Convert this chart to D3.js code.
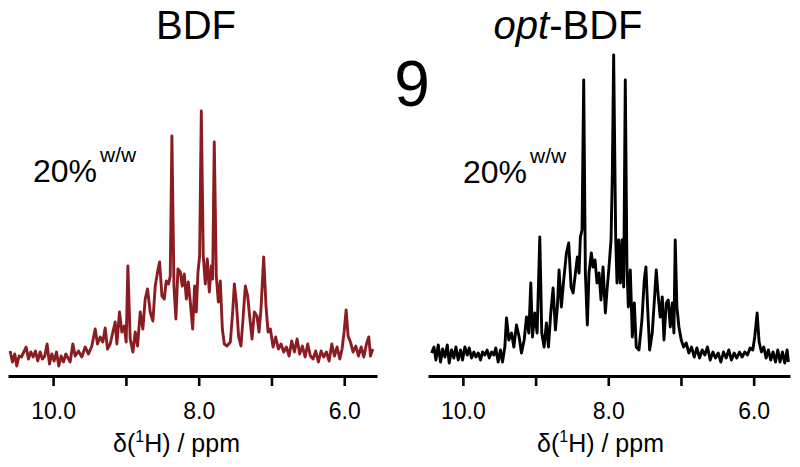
<!DOCTYPE html>
<html>
<head>
<meta charset="utf-8">
<script src="https://cdn.jsdelivr.net/npm/d3@7"></script>
<style>
  html, body { margin: 0; padding: 0; background: #fff; }
  svg { display: block; }
  text { font-family: "Liberation Sans", Arial, Helvetica, sans-serif; fill: #000; }
</style>
</head>
<body>
<svg id="chart" width="800" height="467"></svg>
<script>
// ---- data (chemical shift in ppm, intensity in arbitrary units) ----
const bdfShift = [10.591,10.559,10.527,10.500,10.468,10.436,10.403,10.371,10.339,10.307,10.275,10.243,10.211,10.179,10.147,10.115,10.083,10.050,10.018,9.986,9.954,9.922,9.890,9.858,9.826,9.766,9.729,9.697,9.652,9.606,9.560,9.514,9.468,9.422,9.390,9.353,9.317,9.285,9.253,9.216,9.179,9.147,9.124,9.088,9.056,9.023,8.996,8.973,8.941,8.904,8.872,8.840,8.803,8.767,8.735,8.703,8.666,8.629,8.597,8.565,8.537,8.505,8.473,8.446,8.414,8.391,8.368,8.340,8.313,8.285,8.253,8.226,8.198,8.170,8.143,8.115,8.083,8.056,8.033,8.010,7.987,7.964,7.937,7.909,7.882,7.854,7.827,7.808,7.786,7.758,7.730,7.703,7.675,7.648,7.611,7.565,7.533,7.510,7.483,7.451,7.419,7.391,7.359,7.327,7.300,7.267,7.235,7.199,7.171,7.144,7.107,7.075,7.047,7.015,6.978,6.942,6.905,6.868,6.832,6.795,6.758,6.722,6.685,6.648,6.612,6.575,6.538,6.502,6.465,6.428,6.392,6.355,6.318,6.282,6.245,6.208,6.171,6.135,6.098,6.061,6.030,6.002,5.974,5.947,5.915,5.878,5.841,5.805,5.768,5.731,5.695,5.663,5.640,5.607];
const bdfIntensity = [6,-5,3,-9,1,0,5,10,-2,5,0,6,-4,5,-2,1,13,-7,3,-4,5,-9,1,-5,3,-5,13,1,6,0,10,3,11,28,13,20,15,29,8,13,25,35,13,45,25,31,15,91,18,5,25,11,45,28,58,68,45,36,71,85,95,61,58,76,73,81,221,71,38,88,85,71,83,58,75,55,28,71,45,85,101,246,101,73,98,65,91,78,215,81,55,76,28,13,11,15,45,73,55,20,11,38,71,61,41,18,45,41,25,48,100,51,25,28,10,20,8,13,5,10,1,16,5,18,3,11,0,13,1,-2,6,-5,6,0,5,-4,13,1,10,-2,8,25,47,21,15,5,11,1,10,0,13,20,1,8];

const optShift = [10.430,10.398,10.371,10.339,10.307,10.279,10.247,10.215,10.188,10.156,10.124,10.096,10.064,10.032,10.005,9.973,9.940,9.913,9.881,9.849,9.821,9.789,9.757,9.730,9.698,9.666,9.638,9.606,9.574,9.547,9.515,9.483,9.455,9.423,9.400,9.368,9.331,9.299,9.263,9.226,9.194,9.157,9.125,9.093,9.066,9.043,9.011,8.979,8.942,8.915,8.883,8.851,8.823,8.791,8.759,8.727,8.700,8.677,8.645,8.613,8.576,8.544,8.512,8.484,8.452,8.425,8.402,8.384,8.361,8.338,8.315,8.288,8.265,8.233,8.210,8.182,8.155,8.127,8.100,8.072,8.040,8.017,7.990,7.962,7.944,7.926,7.898,7.880,7.857,7.834,7.811,7.788,7.766,7.743,7.724,7.697,7.669,7.642,7.615,7.578,7.537,7.505,7.482,7.459,7.431,7.395,7.363,7.340,7.312,7.285,7.257,7.234,7.202,7.175,7.147,7.120,7.097,7.079,7.056,7.028,6.996,6.964,6.928,6.891,6.854,6.818,6.781,6.744,6.708,6.671,6.635,6.598,6.561,6.525,6.488,6.451,6.415,6.378,6.342,6.305,6.268,6.232,6.195,6.159,6.122,6.085,6.049,6.012,5.985,5.952,5.925,5.893,5.861,5.829,5.797,5.765,5.733,5.700,5.668,5.637,5.604,5.572,5.540,5.522];
const optIntensity = [4,10,-3,12,-5,8,0,12,-6,7,-1,10,-3,7,-3,10,2,9,-1,5,0,4,-3,5,2,7,-1,5,2,9,-5,7,-5,10,39,17,24,10,32,20,4,17,40,24,74,20,44,24,120,24,10,34,10,44,69,27,50,87,50,77,104,114,70,64,84,100,84,120,127,277,84,32,84,104,90,97,74,84,57,90,44,67,90,117,184,302,120,74,117,74,117,70,277,90,50,87,20,54,10,7,37,77,90,50,7,24,60,87,60,40,60,17,54,57,30,54,24,117,50,30,17,10,14,4,10,0,9,-1,7,2,10,-3,5,-1,4,-5,5,-1,7,-3,4,-1,5,0,5,2,9,7,20,44,15,5,10,-1,7,-3,5,-5,7,-5,5,-6,7,-5];

const tickValues = [10, 9, 8, 7, 6];
const tickLabels = ["10.0", "", "8.0", "", "6.0"];
const panelTitles = ["BDF", "opt-BDF"];
const concLabel = "20%";
const concSup = "w/w";
const figNumber = "9";

// ---- drawing ----
const svg = d3.select("#chart");
const font = '"Liberation Sans", Arial, Helvetica, sans-serif';

const yScale = d3.scaleLinear().domain([0, 303]).range([357, 54]);

const panels = [
  { shift: bdfShift, inten: bdfIntensity, color: "#8b1c21",
    x: d3.scaleLinear().domain([10.62, 5.55]).range([8, 377]),
    titleX: 196, concX: 33, concY: 182, titleStartX: 113 },
  { shift: optShift, inten: optIntensity, color: "#000000",
    x: d3.scaleLinear().domain([10.48, 5.5]).range([428, 790]),
    titleX: 568, concX: 463, concY: 183, titleStartX: 537 }
];

panels.forEach((p, i) => {
  const data = p.shift.map((s, k) => [s, p.inten[k]]);
  const line = d3.line().x(d => p.x(d[0])).y(d => yScale(d[1]));
  svg.append("path")
    .datum(data)
    .attr("d", line)
    .attr("fill", "none")
    .attr("stroke", p.color)
    .attr("stroke-width", 2.9)
    .attr("stroke-linejoin", "round");

  // axis
  const axis = d3.axisBottom(p.x)
    .tickValues(tickValues)
    .tickFormat((d, k) => tickLabels[k])
    .tickSizeOuter(0)
    .tickSizeInner(10)
    .tickPadding(5);
  const g = svg.append("g").attr("transform", "translate(0,376)").call(axis);
  g.select(".domain").attr("stroke", "#000").attr("stroke-width", 2.8);
  g.selectAll(".tick line").attr("stroke", "#000").attr("stroke-width", 2.6);
  g.selectAll(".tick text")
    .attr("font-family", font)
    .attr("font-size", 23)
    .attr("fill", "#000")
    .attr("dy", 0)
    .attr("y", 43);

  // axis title
  const at = svg.append("text")
    .attr("x", p.titleStartX).attr("y", 452)
    .attr("font-size", 25);
  at.append("tspan").text("δ(");
  at.append("tspan").attr("font-size", 16).attr("dy", -10).text("1");
  at.append("tspan").attr("dy", 10).text("H) / ppm");

  // panel title
  const t = svg.append("text")
    .attr("x", p.titleX).attr("y", 39)
    .attr("text-anchor", "middle")
    .attr("font-size", 40);
  if (i === 1) {
    t.append("tspan").attr("font-style", "italic").text("opt");
    t.append("tspan").text("-BDF");
  } else {
    t.text(panelTitles[0]);
  }

  // concentration label
  const c = svg.append("text")
    .attr("x", p.concX).attr("y", p.concY)
    .attr("font-size", 32);
  c.append("tspan").text(concLabel);
  c.append("tspan").attr("font-size", 21).attr("dy", -20).attr("dx", 3).text(concSup);
});

svg.append("text")
  .attr("x", 412).attr("y", 106)
  .attr("text-anchor", "middle")
  .attr("font-size", 64)
  .text(figNumber);
</script>
</body>
</html>
